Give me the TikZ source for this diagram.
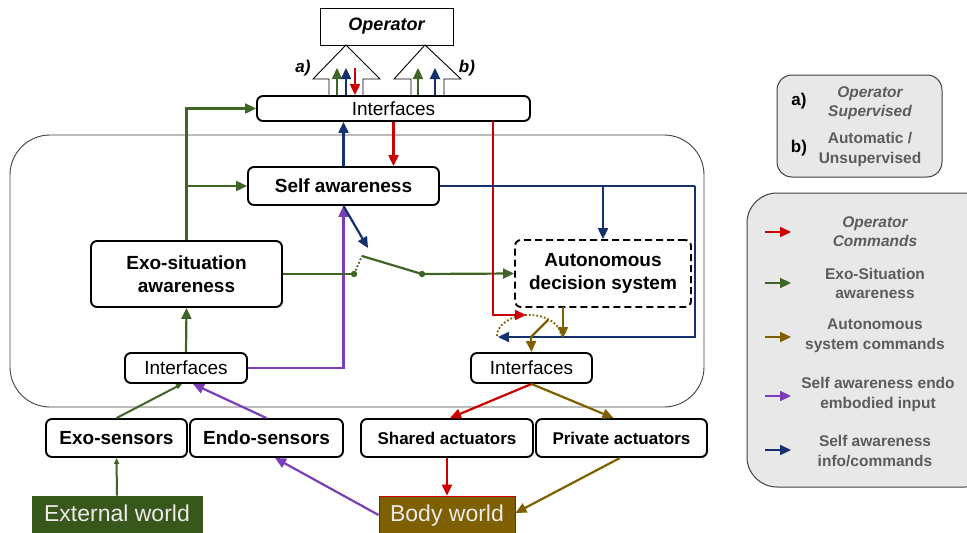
\documentclass[tikz,border=0pt]{standalone}
\usepackage{fontspec}
\setmainfont{Liberation Sans}
\usetikzlibrary{arrows.meta,calc}
\definecolor{cred}{HTML}{CC0000}
\definecolor{cgreen}{HTML}{3E6426}
\definecolor{cblue}{HTML}{14306E}
\definecolor{cpurple}{HTML}{7E3DB8}
\definecolor{cbrown}{HTML}{7F6000}
\definecolor{extfill}{HTML}{38571A}
\definecolor{legfill}{HTML}{E8E8E8}
\definecolor{legtext}{HTML}{5C5C5C}
\begin{document}
\begin{tikzpicture}[x=1pt,y=-1pt,
  box/.style={draw, line width=1.9pt, rounded corners=6pt, fill=white, inner sep=0pt,
    align=center, font=\fontsize{19}{23}\selectfont\bfseries},
  iface/.style={box, font=\fontsize{19}{23}\selectfont},
  actbox/.style={box, font=\fontsize{17}{20}\selectfont\bfseries},
  world/.style={draw, line width=0.8pt, inner sep=0pt, text=white!92!black,
    font=\fontsize{23}{26}\selectfont, minimum height=38pt,
    text height=16pt, text depth=4pt},
  link/.style={line width=2.2pt, -{Triangle[length=11pt,width=10pt]}},
  thin link/.style={line width=2pt, -{Triangle[length=6pt,width=5pt]}},
  wire/.style={line width=2.2pt},
  bigarrow/.style={draw, line width=0.9pt, fill=white},
  legbox/.style={draw=black!75, line width=1pt, fill=legfill},
  legtxt/.style={text=legtext, align=center, font=\fontsize{15.5}{19.5}\selectfont\bfseries},
  tag/.style={font=\fontsize{17}{20}\selectfont\bfseries\itshape},
]
\useasboundingbox (0,0) rectangle (967,533);
\begin{scope}
\clip (0,0) rectangle (967,533);

% system container
\draw[line width=0.9pt, black!75, rounded corners=40pt] (10,135) rectangle (704,407);

% hollow arrows towards the operator
\draw[bigarrow] (329,97) -- (329,79) -- (313,79) -- (346,45) -- (380,79) -- (363,79) -- (363,97);
\draw[bigarrow] (411,97) -- (411,79) -- (394,79) -- (425,45) -- (461,79) -- (444,79) -- (444,97);

% main blocks
\node[draw, line width=0.9pt, minimum width=133pt, minimum height=37pt, inner sep=0pt,
      font=\fontsize{18}{21}\selectfont\bfseries\itshape] (op) at (386.5,26.5) {Operator};
\node[iface, minimum width=273pt, minimum height=25pt] (itop) at (393.5,108.5) {Interfaces};
\node[box, minimum width=191pt, minimum height=38pt] (self) at (343.5,186) {Self awareness};
\node[box, minimum width=191pt, minimum height=66pt] (exo) at (186.5,274) {Exo-situation\\awareness};
\node[box, dash pattern=on 7pt off 4pt, minimum width=176pt, minimum height=67pt] (ads) at (603,273.5) {Autonomous\\decision system};
\node[iface, minimum width=122pt, minimum height=30pt] (il) at (186,368) {Interfaces};
\node[iface, minimum width=121pt, minimum height=30pt] (ir) at (531.5,368) {Interfaces};
\node[box, minimum width=141pt, minimum height=38pt] (exos) at (116.5,438) {Exo-sensors};
\node[box, minimum width=153pt, minimum height=38pt] (endos) at (266.5,438) {Endo-sensors};
\node[actbox, minimum width=172pt, minimum height=38pt] (shared) at (447,438) {Shared actuators};
\node[actbox, minimum width=171pt, minimum height=38pt] (priv) at (621.5,438) {Private actuators};
\node[world, draw=extfill, fill=extfill, minimum width=170pt] (ext) at (117,515) {External world};
\node[world, draw=cred, fill=cbrown, minimum width=136pt] (body) at (447,515) {Body world};

% labels of the two operator modes
\node[tag] (tagA) at (303,68) {a)};
\node[tag] (tagB) at (467,68) {b)};

% flows through the operator interfaces
\coordinate (aG) at (337,68);
\coordinate (aB) at (346,68);
\coordinate (aR) at (355,68);
\coordinate (bG) at (418,68);
\coordinate (bB) at (435,68);
\draw[link, cgreen] (itop.north -| aG) -- (aG);
\draw[link, cblue] (itop.north -| aB) -- (aB);
\draw[link, cred] (aR) -- (itop.north -| aR);
\draw[link, cgreen] (itop.north -| bG) -- (bG);
\draw[link, cblue] (itop.north -| bB) -- (bB);

% exo-situation awareness
\draw[link, cgreen] (exo.north) |- (itop.west);
\draw[link, cgreen] (exo.north |- self.west) -- (self.west);
\draw[link, cgreen] (il.north) -- (exo.south);

% self awareness
\draw[link, cblue] (self.north) -- (self.north |- itop.south);
\draw[link, cred] (itop.south) -- (itop.south |- self.north);
\draw[link, cpurple] (il.east) -| (self.south);

% switch between exo-situation awareness and decision system
\coordinate (s1) at (354,274);
\coordinate (s2) at (362,256);
\coordinate (s3) at (422,274);
\coordinate (swtip) at (368,248);
\draw[link, cblue] (self.south) -- (swtip);
\draw[wire, cgreen] (exo.east) -- (s1);
\draw[line width=1.8pt, cgreen, dotted] (s1) -- (s2);
\draw[wire, cgreen] (s2) -- (s3);
\draw[link, cgreen] (s3) -- (ads.west);
\fill[cgreen] (s1) circle (3.2pt);
\fill[cgreen] (s3) circle (3.2pt);

% output switch towards the actuator interfaces
\draw[line width=1.8pt, cbrown, dotted] (497,336) arc[start angle=180, end angle=0, x radius=32pt, y radius=21pt];
\coordinate (redx) at (493,121);
\coordinate (redtip) at (526,315);
\draw[link, cred] (redx) |- (redtip);
\coordinate (bx) at (695,186);
\coordinate (by) at (695,337);
\coordinate (bluetip) at (498,337);
\draw[wire, cblue] (self.east) -- (bx);
\draw[link, cblue] (bx) -- (by) -- (bluetip);
\draw[link, cblue] (ads.north |- bx) -- (ads.north);
\coordinate (adsout) at (563,307);
\coordinate (adsend) at (563,338);
\draw[link, cbrown] (adsout) -- (adsend);
\coordinate (lv1) at (548,320);
\coordinate (lv2) at (531,337);
\draw[wire, cbrown] (lv1) -- (lv2);
\draw[link, cbrown] (lv2) -- (ir.north);

% sensors and actuators
\draw[thin link, cgreen] (exos.north) -- ([xshift=-4pt]il.south);
\draw[link, cpurple] (endos.north) -- ([xshift=7pt]il.south);
\draw[thin link, cgreen] (ext.north) -- (exos.south);
\draw[link, cpurple] (body.west) -- ([xshift=8.5pt]endos.south);
\draw[link, cred] (ir.south) -- ([xshift=3pt]shared.north);
\draw[link, cbrown] (ir.south) -- ([xshift=-8pt]priv.north);
\draw[link, cred] (shared.south) -- (body.north);
\draw[link, cbrown] ([xshift=-1.5pt]priv.south) -- ([yshift=2pt]body.east);

% legend of the modes
\draw[legbox, rounded corners=15pt] (777,75) rectangle (942,177);
\node[font=\fontsize{17}{20}\selectfont\bfseries] (la) at (799,101) {a)};
\node[legtxt, font=\fontsize{15.5}{19.5}\selectfont\bfseries\itshape] (lat) at (870,103) {Operator\\Supervised};
\node[font=\fontsize{17}{20}\selectfont\bfseries] (lb) at (799,148) {b)};
\node[legtxt] (lbt) at (870,149.5) {Automatic /\\Unsupervised};

% legend of the flows
\draw[legbox, rounded corners=30pt] (747,193) rectangle (995,487);
\coordinate (k1a) at (765,232); \coordinate (k1b) at (791,232);
\coordinate (k2a) at (765,283); \coordinate (k2b) at (791,283);
\coordinate (k3a) at (765,337); \coordinate (k3b) at (791,337);
\coordinate (k4a) at (765,396); \coordinate (k4b) at (791,396);
\coordinate (k5a) at (765,450); \coordinate (k5b) at (791,450);
\draw[link, cred] (k1a) -- (k1b);
\draw[link, cgreen] (k2a) -- (k2b);
\draw[link, cbrown] (k3a) -- (k3b);
\draw[link, cpurple] (k4a) -- (k4b);
\draw[link, cblue] (k5a) -- (k5b);
\node[legtxt, font=\fontsize{15.5}{19.5}\selectfont\bfseries\itshape] (t1) at (875,231.5) {Operator\\Commands};
\node[legtxt] (t2) at (875,283.5) {Exo-Situation\\awareness};
\node[legtxt] (t3) at (875,336) {Autonomous\\system commands};
\node[legtxt] (t4) at (878,394.5) {Self awareness endo\\embodied input};
\node[legtxt] (t5) at (875,451) {Self awareness\\info/commands};
\end{scope}
\end{tikzpicture}
\end{document}
